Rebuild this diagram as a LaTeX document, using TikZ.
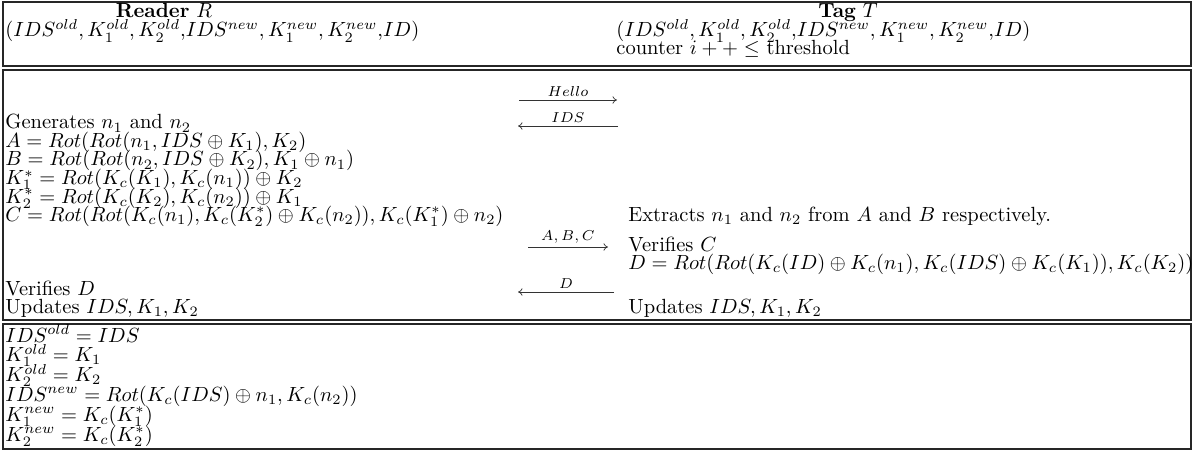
\documentclass[tikz,border=0pt]{standalone}
\usepackage{amsmath,amssymb}
\usetikzlibrary{arrows.meta}
\begin{document}
\begin{tikzpicture}[x=0.4875pt,y=-0.4875pt,
  txt/.style={anchor=base west, inner sep=0pt},
  ctxt/.style={anchor=base, inner sep=0pt},
  box/.style={draw=black!85, line width=0.6pt},
  msg/.style={line width=0.35pt, draw=black!80, -{To[length=2.2pt,width=3.6pt]}},
  lbl/.style={midway, above=1.4pt, inner sep=0pt, font=\scriptsize}]
\useasboundingbox (0,0) rectangle (1194,451);
% boxes
\draw[box] (3,2) rectangle (1191,66);
\draw[box] (3,70) rectangle (1191,320);
\draw[box] (3,324) rectangle (1191,449);
% header
\node[ctxt] (rd) at (164,18) {\textbf{Reader} $R$};
\node[txt] (rdv) at (5,37) {$(IDS^{old}, K_1^{old}, K_2^{old}$,$IDS^{new}, K_1^{new}, K_2^{new}$,$ID)$};
\node[ctxt] (tg) at (848,18) {\textbf{Tag} $T$};
\node[txt] (tgv) at (616,37) {$(IDS^{old}, K_1^{old}, K_2^{old}$,$IDS^{new}, K_1^{new}, K_2^{new}$,$ID)$};
\node[txt] (cnt) at (616,55) {counter $i++ \leq$ threshold};
% reader column
\node[txt] (r1) at (5,129) {Generates $n_1$ and $n_2$};
\node[txt] (r2) at (5,147.5) {$A = Rot(Rot(n_1, IDS \oplus K_1), K_2)$};
\node[txt] (r3) at (5,166) {$B = Rot(Rot(n_2, IDS \oplus K_2), K_1 \oplus n_1)$};
\node[txt] (r4) at (5,184.5) {$K_1^* = Rot(K_c(K_1), K_c(n_1)) \oplus K_2$};
\node[txt] (r5) at (5,203) {$K_2^* = Rot(K_c(K_2), K_c(n_2)) \oplus K_1$};
\node[txt] (r6) at (5,221) {$C = Rot(Rot(K_c(n_1), K_c(K_2^*) \oplus K_c(n_2)), K_c(K_1^*) \oplus n_2)$};
\node[txt] (r7) at (5,295) {Verifies $D$};
\node[txt] (r8) at (5,313) {Updates $IDS, K_1, K_2$};
% tag column
\node[txt] (t1) at (628,221) {Extracts $n_1$ and $n_2$ from $A$ and $B$ respectively.};
\node[txt] (t2) at (628,251) {Verifies $C$};
\node[txt] (t3) at (628,269) {$D = Rot(Rot(K_c(ID) \oplus K_c(n_1), K_c(IDS) \oplus K_c(K_1)), K_c(K_2))$};
\node[txt] (t4) at (628,313) {Updates $IDS, K_1, K_2$};
% messages
\coordinate (h1) at (519,100); \coordinate (h2) at (617,100);
\coordinate (i1) at (618,126); \coordinate (i2) at (518,126);
\coordinate (a1) at (528,247); \coordinate (a2) at (608,247);
\coordinate (d1) at (614,292); \coordinate (d2) at (518,292);
\draw[msg] (h1) -- (h2) node[lbl] {$Hello$};
\draw[msg] (i1) -- (i2) node[lbl] {$IDS$};
\draw[msg] (a1) -- (a2) node[lbl] {$A,B,C$};
\draw[msg] (d1) -- (d2) node[lbl] {$D$};
% update box
\node[txt] (u1) at (5,342) {$IDS^{old} = IDS$};
\node[txt] (u2) at (5,361.8) {$K_1^{old} = K_1$};
\node[txt] (u3) at (5,381.6) {$K_2^{old} = K_2$};
\node[txt] (u4) at (5,401.4) {$IDS^{new} = Rot(K_c(IDS) \oplus n_1, K_c(n_2))$};
\node[txt] (u5) at (5,421.2) {$K_1^{new} = K_c(K_1^*)$};
\node[txt] (u6) at (5,441) {$K_2^{new} = K_c(K_2^*)$};
\end{tikzpicture}
\end{document}
